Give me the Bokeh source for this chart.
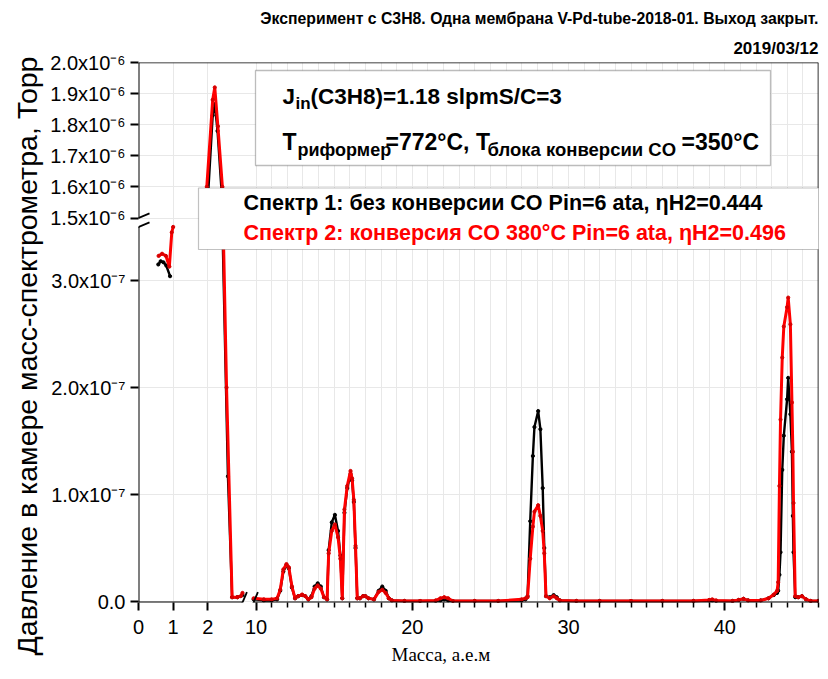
import numpy as np
from bokeh.plotting import figure
from bokeh.models import Range1d, FixedTicker, Arrow, BoxAnnotation, Label, Title
from bokeh.embed import file_html
from bokeh.resources import INLINE

NAN = float("nan")

# ---------------- data (pressure in units of 1e-7 Torr) ----------------
# H2 region, left part of the broken mass axis
mass_h2_black = [0.57, 0.64, 0.72, 0.80, 0.91, NAN, 2.00, 2.14, 2.20, 2.28, 2.40, 2.58, 2.70, 2.85, 3.00]
press_h2_black = [3.15, 3.18, 3.17, 3.14, 3.04, NAN, 15.6, 18.3, 18.66, 17.8, 15.8, 1.17, 0.04, 0.04, 0.06]
mass_h2_red = [0.58, 0.68, 0.79, 0.89, 0.96, 1.00, NAN, 1.97, 2.14, 2.20, 2.29, 2.42, 2.54, 2.70, 2.85, 2.95, 3.00]
press_h2_red = [3.23, 3.25, 3.23, 3.13, 3.45, 3.60, NAN, 16.0, 18.8, 19.2, 17.95, 16.0, 2.0, 0.04, 0.04, 0.05, 0.08]

# main region, right part of the broken mass axis (shared mass grid)
mass_main = [9.85, 10.5, 11.0, 11.35, 11.55, 11.75, 11.95, 12.1, 12.3, 12.5, 12.7, 12.95, 13.15, 13.35,
             13.55, 13.75, 13.95, 14.15, 14.35, 14.55, 14.65, 14.85, 15.05, 15.25, 15.4, 15.52,
             15.66, 15.84, 16.05, 16.15, 16.26, 16.37, 16.48, 16.65, 16.85, 17.0, 17.2, 17.55,
             17.85, 18.08, 18.3, 18.5, 18.7, 19.5, 20.5, 21.5, 21.8, 22.05, 22.3, 22.6, 24.0,
             25.5, 27.0, 27.25, 27.38, 27.55, 27.72, 27.82, 28.06, 28.2, 28.35, 28.45, 28.56,
             28.8, 29.05, 29.25, 29.45, 30.5, 32.0, 34.0, 36.0, 38.0, 39.0, 39.2, 39.45, 40.5,
             40.9, 41.2, 41.5, 42.3, 42.8, 43.14, 43.35, 43.42, 43.5, 43.57, 43.68, 43.78, 43.99,
             44.06, 44.2, 44.3, 44.36, 44.4, 44.51, 44.7, 44.94, 45.2, 45.5, 46.0]
press_main_black = [0.02, 0.01, 0.01, 0.02, 0.10, 0.28, 0.34, 0.31, 0.13, 0.03, 0.05, 0.06, 0.05, 0.02,
                    0.05, 0.14, 0.17, 0.14, 0.04, 0.02, 0.48, 0.74, 0.81, 0.66, 0.43, 0.03,
                    0.83, 1.06, 1.19, 1.13, 0.93, 0.50, 0.03, 0.03, 0.05, 0.05, 0.03, 0.02,
                    0.10, 0.14, 0.10, 0.03, 0.01, 0.005, 0.005, 0.005, 0.01, 0.02, 0.01, 0.005, 0.005,
                    0.005, 0.01, 0.02, 0.05, 0.75, 1.36, 1.63, 1.78, 1.61, 1.06, 0.50, 0.05,
                    0.04, 0.06, 0.04, 0.01, 0.005, 0.005, 0.005, 0.005, 0.005, 0.01, 0.01, 0.005, 0.005,
                    0.015, 0.025, 0.01, 0.01, 0.03, 0.06, 0.08, 0.10, 0.25, 0.46, 1.23, 1.55, 1.89,
                    2.09, 1.75, 1.40, 0.80, 0.46, 0.04, 0.04, 0.05, 0.02, 0.005, 0.005]
press_main_red = [0.03, 0.02, 0.02, 0.03, 0.11, 0.30, 0.35, 0.32, 0.14, 0.03, 0.05, 0.065, 0.05, 0.02,
                  0.04, 0.12, 0.15, 0.12, 0.04, 0.02, 0.45, 0.66, 0.72, 0.60, 0.40, 0.03,
                  0.86, 1.08, 1.22, 1.15, 0.95, 0.52, 0.03, 0.03, 0.05, 0.05, 0.03, 0.02,
                  0.09, 0.11, 0.08, 0.03, 0.01, 0.005, 0.005, 0.01, 0.03, 0.04, 0.03, 0.005, 0.005,
                  0.005, 0.02, 0.03, 0.04, 0.40, 0.70, 0.84, 0.90, 0.80, 0.66, 0.45, 0.05,
                  0.03, 0.05, 0.03, 0.01, 0.005, 0.005, 0.005, 0.005, 0.005, 0.015, 0.02, 0.01, 0.005,
                  0.015, 0.025, 0.01, 0.01, 0.03, 0.065, 0.10, 0.18, 1.08, 1.70, 2.28, 2.57, 2.75,
                  2.84, 2.59, 1.86, 1.40, 0.92, 0.05, 0.04, 0.05, 0.02, 0.005, 0.005]

UNIT = 1e-7
x_major_vals = [0, 1, 2, 10, 20, 30, 40]
x_major_labels = ["0", "1", "2", "10", "20", "30", "40"]
x_minor_vals = [m for m in range(11, 47) if m % 10 != 0]
y_major_vals = [0.0, 1e-7, 2e-7, 3e-7, 1.5e-6, 1.6e-6, 1.7e-6, 1.8e-6, 1.9e-6, 2.0e-6]
y_major_labels = ["0.0", "1.0x10⁻⁷", "2.0x10⁻⁷", "3.0x10⁻⁷", "1.5x10⁻⁶", "1.6x10⁻⁶",
                  "1.7x10⁻⁶", "1.8x10⁻⁶", "1.9x10⁻⁶", "2.0x10⁻⁶"]

# ---------------- broken-axis scales (data value -> frame pixel) ----------------
X_BREAKS = [0.0, 3.0, 9.84, 46.0]
X_FRAME = [0.0, 104.0, 115.0, 680.0]
Y_BREAKS = [0.0, 3.5e-7, 1.5e-6, 2.0e-6]
Y_FRAME = [0.0, 374.5, 383.5, 539.0]


def to_frame(vals, breaks, frame):
    a = np.asarray(vals, dtype=float)
    out = np.interp(np.nan_to_num(a), breaks, frame)
    out[np.isnan(a)] = np.nan
    return out


def fx(v):
    return to_frame(v, X_BREAKS, X_FRAME)


def fy(v):
    return to_frame(v, Y_BREAKS, Y_FRAME)


mass_black = mass_h2_black + [NAN] + mass_main
press_black = [v * UNIT for v in press_h2_black + [NAN] + press_main_black]
mass_red = mass_h2_red + [NAN] + mass_main
press_red = [v * UNIT for v in press_h2_red + [NAN] + press_main_red]

FONT = "Liberation Sans"

p = figure(width=828, height=679, x_range=Range1d(0, 680), y_range=Range1d(-1, 539),
           min_border_left=138, min_border_right=10, min_border_top=62, min_border_bottom=77,
           output_backend="svg", toolbar_location=None, title=None)
p.outline_line_color = None
p.background_fill_color = "white"
p.border_fill_color = "white"

# ---- titles (above), axis labels (left / below) ----
p.add_layout(Title(text="2019/03/12", align="right", text_font=FONT, text_font_size="17px",
                   text_font_style="bold", text_color="black", standoff=9), "above")
p.add_layout(Title(text="Эксперимент с С3Н8. Одна мембрана V-Pd-tube-2018-01. Выход закрыт.",
                   align="right", text_font=FONT, text_font_size="15.8px", text_font_style="bold",
                   text_color="black", standoff=12), "above")
p.add_layout(Title(text="Давление в камере масс-спектрометра, Торр", align="left", offset=-53,
                   text_font=FONT, text_font_size="28.5px", text_font_style="normal",
                   text_color="black", standoff=10), "left")
p.add_layout(Title(text="Масса, а.е.м", align="left", offset=253, vertical_align="top",
                   text_font="Liberation Serif", text_font_size="19px", text_font_style="normal",
                   text_color="black", standoff=15), "below")

# ---- axes ----
xt = [round(float(v), 3) for v in fx(x_major_vals)]
xm = [round(float(v), 3) for v in fx(x_minor_vals)]
p.xaxis.ticker = FixedTicker(ticks=xt, minor_ticks=xm)
p.xaxis.major_label_overrides = dict(zip(xt, x_major_labels))
yt = [round(float(v), 3) for v in fy(y_major_vals)]
p.yaxis.ticker = FixedTicker(ticks=yt, minor_ticks=[])
p.yaxis.major_label_overrides = dict(zip(yt, y_major_labels))

for ax in (p.xaxis[0], p.yaxis[0]):
    ax.axis_line_color = None
    ax.major_tick_in = 0
    ax.major_tick_out = 8
    ax.major_tick_line_width = 2
    ax.major_tick_line_color = "black"
    ax.major_label_text_font = FONT
    ax.major_label_text_color = "black"
p.xaxis.minor_tick_in = 0
p.xaxis.minor_tick_out = 5
p.xaxis.minor_tick_line_width = 1.5
p.xaxis.minor_tick_line_color = "black"
p.xaxis.major_label_text_font_size = "20px"
p.xaxis.major_label_standoff = 9
p.yaxis.minor_tick_line_color = None
p.yaxis.major_label_text_font_size = "20px"
p.yaxis.major_label_standoff = 5

p.xgrid.grid_line_color = "#e8e8e8"
p.xgrid.minor_grid_line_color = "#e8e8e8"
p.ygrid.grid_line_color = "#e8e8e8"

# ---- data ----
p.line(fx(mass_black), fy(press_black), line_color="black", line_width=2.4)
p.scatter(fx(mass_black), fy(press_black), size=3.2, color="black")
p.line(fx(mass_red), fy(press_red), line_color="#ff0000", line_width=3)
p.scatter(fx(mass_red), fy(press_red), size=3.2, color="#d80000")


def seg(x0, y0, x1, y1, w=2.0, level="annotation"):
    p.add_layout(Arrow(end=None, x_start=x0, y_start=y0, x_end=x1, y_end=y1,
                       line_color="black", line_width=w, level=level))


# frame with broken axes
yb_lo, yb_hi = Y_FRAME[1], Y_FRAME[2]
xb_lo, xb_hi = X_FRAME[1], X_FRAME[2]
seg(0, -1, 0, yb_lo)
seg(0, yb_hi, 0, 539)
seg(0, -1, xb_lo, -1)
seg(xb_hi, -1, 680, -1)
seg(0, 539, 680, 539, 1.6)
seg(680, -1, 680, 539, 1.6)
for yy in (yb_lo, yb_hi):
    seg(-11, yy - 4.6, 11, yy + 4.6, 1.8, "overlay")
for xx in (xb_lo, xb_hi):
    seg(xx - 4.4, -11.3, xx + 4.4, 9.3, 1.8, "overlay")

# ---- text box with conditions ----
p.add_layout(BoxAnnotation(left=117, right=632, bottom=436, top=531, fill_color="white", fill_alpha=1,
                           line_color="#222222", line_width=1.3))


def lab(x, y, text, size, color="black", style="bold", align="left", font=FONT):
    p.add_layout(Label(x=x, y=y, text=text, text_font=font, text_font_size=size, text_font_style=style,
                       text_color=color, text_align=align, text_baseline="alphabetic"))


lab(144, 505, "J", "22.5px")
lab(157, 498, "in", "17px")
lab(172, 505, "(C3H8)=1.18 slpmS/C=3", "22.5px")
lab(144, 460, "T", "23px")
lab(159, 452, "риформер", "18px")
lab(247, 460, "=772°C, T", "23px")
lab(349, 452, "блока конверсии CO", "18.5px")
lab(543, 460, "=350°C", "23px")

# ---- legend box ----
p.add_layout(BoxAnnotation(left=60, right=682, bottom=352, top=413.5, fill_color="white", fill_alpha=1,
                           line_color="#333333", line_width=1.2))
lab(105, 399, "Спектр 1: без конверсии CO  Pin=6 ata, ηH2=0.444", "21.5px")
lab(105, 369, "Спектр 2: конверсия CO 380°C Pin=6 ata, ηH2=0.496", "21.5px", color="#ff0000")

open("out.html", "w").write(file_html(p, INLINE))
